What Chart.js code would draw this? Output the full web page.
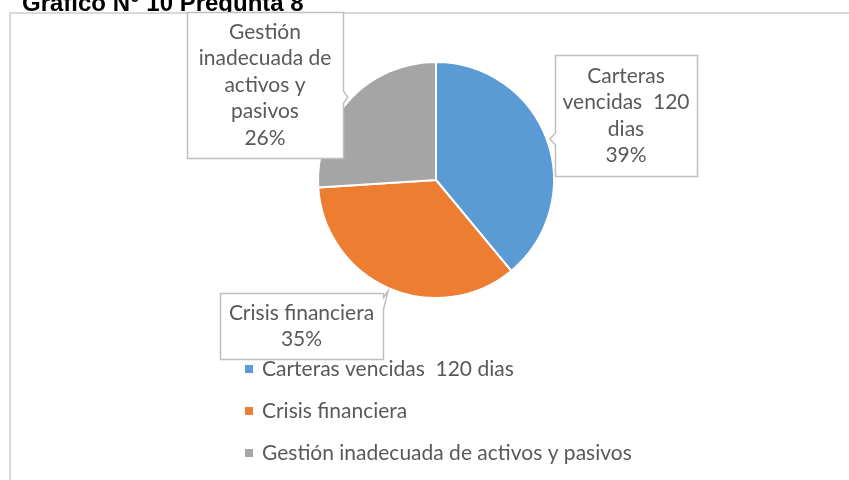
<!DOCTYPE html>
<html lang="es">
<head>
<meta charset="utf-8">
<title>Gráfico N° 10 Pregunta 8</title>
<script src="https://cdn.jsdelivr.net/npm/chart.js@4.4.1/dist/chart.umd.min.js"></script>
<style>
  html, body { margin: 0; padding: 0; background: #ffffff; }
  #lienzo { display: block; }
</style>
</head>
<body>
<canvas id="lienzo" width="849" height="480"></canvas>
<script>
// ==========================================
// DATOS DEL GRÁFICO
// ==========================================
const categorias = ["Carteras vencidas  120 dias", "Crisis financiera", "Gestión inadecuada de activos y pasivos"];
const porcentajes = [39, 35, 26];
const colores = ['#5B9BD5', '#ED7D31', '#A5A5A5'];
// Texto de cada etiqueta (ya partido en líneas como en el original)
const lineasEtiqueta = [
    ["Carteras", "vencidas  120", "dias"],
    ["Crisis financiera"],
    ["Gestión", "inadecuada de", "activos y", "pasivos"]
];
const tituloGrafico = "Gráfico N° 10 Pregunta 8";

const colorTexto = '#595959';
const fuente = 'Lato, "Open Sans", sans-serif';

// Cajas de las etiquetas, relativas al centro de la torta
const cajas = [
    { dx: 119, dy: -125, w: 142, h: 121 },
    { dx: -216, dy: 113, w: 163, h: 66 },
    { dx: -249, dy: -168, w: 156, h: 146 }
];

// ---- marco y título recortado ----
const marcoYTitulo = {
    id: 'marcoYTitulo',
    beforeDraw(chart) {
        const ctx = chart.ctx;
        ctx.save();
        ctx.fillStyle = '#ffffff';
        ctx.fillRect(0, 0, chart.width, chart.height);
        ctx.strokeStyle = '#d9d9d9';
        ctx.lineWidth = 2;
        ctx.strokeRect(10, 13, chart.width + 20, chart.height + 20);
        ctx.fillStyle = '#000000';
        ctx.font = 'bold 24px "Liberation Sans", Arial, sans-serif';
        ctx.textBaseline = 'alphabetic';
        ctx.fillText(tituloGrafico, 22, 11);
        ctx.restore();
    }
};

// ---- etiquetas tipo "globo" con su pico hacia la porción ----
function caminoGlobo(ctx, x0, y0, x1, y1, tx, ty) {
    const dist = { left: x0 - tx, right: tx - x1, top: y0 - ty, bottom: ty - y1 };
    let lado = null, mayor = 0;
    for (const k in dist) { if (dist[k] > mayor) { mayor = dist[k]; lado = k; } }
    const medio = 6;
    const cy = Math.min(Math.max(ty, y0 + 10), y1 - 10);
    const cx = Math.min(Math.max(tx, x0 + 10), x1 - 10);
    ctx.beginPath();
    ctx.moveTo(x0, y0);
    if (lado === 'top') { ctx.lineTo(cx - medio, y0); ctx.lineTo(tx, ty); ctx.lineTo(cx + medio, y0); }
    ctx.lineTo(x1, y0);
    if (lado === 'right') { ctx.lineTo(x1, cy - medio); ctx.lineTo(tx, ty); ctx.lineTo(x1, cy + medio); }
    ctx.lineTo(x1, y1);
    if (lado === 'bottom') { ctx.lineTo(cx + medio, y1); ctx.lineTo(tx, ty); ctx.lineTo(cx - medio, y1); }
    ctx.lineTo(x0, y1);
    if (lado === 'left') { ctx.lineTo(x0, cy + medio); ctx.lineTo(tx, ty); ctx.lineTo(x0, cy - medio); }
    ctx.closePath();
}

const etiquetasGlobo = {
    id: 'etiquetasGlobo',
    afterDatasetsDraw(chart) {
        const ctx = chart.ctx;
        const meta = chart.getDatasetMeta(0);
        const total = porcentajes.reduce((a, b) => a + b, 0);
        meta.data.forEach((arco, i) => {
            const p = arco.getProps(['x', 'y', 'startAngle', 'endAngle', 'outerRadius'], true);
            const medio = (p.startAngle + p.endAngle) / 2;
            const tx = p.x + Math.cos(medio) * (p.outerRadius + 3);
            const ty = p.y + Math.sin(medio) * (p.outerRadius + 3);
            const c = cajas[i];
            const x0 = p.x + c.dx, y0 = p.y + c.dy, x1 = x0 + c.w, y1 = y0 + c.h;
            ctx.save();
            caminoGlobo(ctx, x0 + 0.5, y0 + 0.5, x1 + 0.5, y1 + 0.5, tx, ty);
            ctx.fillStyle = '#ffffff';
            ctx.fill();
            ctx.strokeStyle = '#bfbfbf';
            ctx.lineWidth = 1.5;
            ctx.stroke();

            const lineas = lineasEtiqueta[i].concat([Math.round(porcentajes[i] / total * 100) + '%']);
            const alto = 26.5;
            const cxTexto = (x0 + x1) / 2;
            let yl = (y0 + y1) / 2 - (lineas.length - 1) * alto / 2;
            ctx.fillStyle = colorTexto;
            ctx.font = '21px ' + fuente;
            ctx.textAlign = 'center';
            ctx.textBaseline = 'middle';
            lineas.forEach(l => { ctx.fillText(l, cxTexto, yl); yl += alto; });
            ctx.restore();
        });
    }
};

// ---- leyenda vertical debajo de la torta ----
const leyendaVertical = {
    id: 'leyendaVertical',
    afterDraw(chart) {
        const ctx = chart.ctx;
        const meta = chart.getDatasetMeta(0);
        const centroX = meta.data[0].x;
        const xMarca = centroX - 191;
        const yInicio = chart.chartArea.bottom + 70;
        ctx.save();
        ctx.font = '21px ' + fuente;
        ctx.textBaseline = 'middle';
        ctx.textAlign = 'left';
        categorias.forEach((cat, i) => {
            const y = yInicio + i * 42;
            ctx.fillStyle = colores[i];
            ctx.fillRect(xMarca, y - 4, 8, 8);
            ctx.fillStyle = colorTexto;
            ctx.fillText(cat, xMarca + 17, y);
        });
        ctx.restore();
    }
};

document.addEventListener("DOMContentLoaded", () => {
    new Chart(document.getElementById('lienzo'), {
        type: 'pie',
        data: {
            labels: categorias,
            datasets: [{
                data: porcentajes,
                backgroundColor: colores,
                borderColor: '#ffffff',
                borderWidth: 2
            }]
        },
        options: {
            responsive: false,
            animation: false,
            layout: { padding: { left: 317, right: 294, top: 61, bottom: 181 } },
            plugins: {
                legend: { display: false },
                tooltip: { enabled: false },
                title: { display: false }
            }
        },
        plugins: [marcoYTitulo, etiquetasGlobo, leyendaVertical]
    });
});
</script>
</body>
</html>
